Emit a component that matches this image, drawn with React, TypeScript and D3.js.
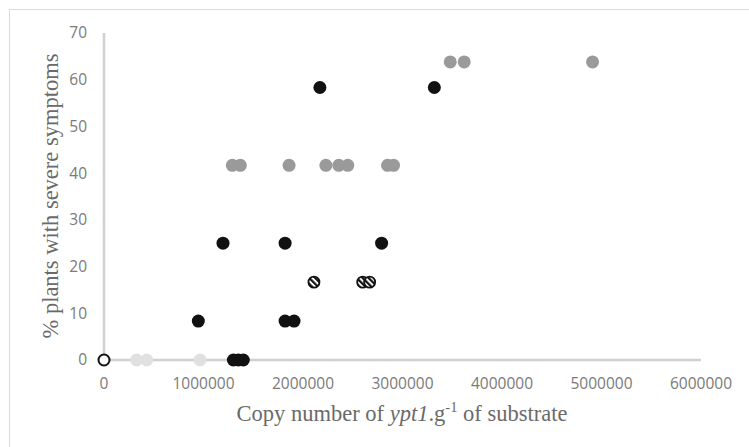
import React from "react";
import * as d3 from "d3";

const W = 749;
const H = 447;

const xTicks = [0, 1000000, 2000000, 3000000, 4000000, 5000000, 6000000];
const yTicks = [0, 10, 20, 30, 40, 50, 60, 70];

// Black filled series
const blackX = [948000, 1196000, 1300000, 1350000, 1400000, 1820000, 1910000, 1820000, 2170000, 3320000, 2790000];
const blackY = [8.33, 25, 0, 0, 0, 8.33, 8.33, 25, 58.33, 58.33, 25];

// Medium gray series
const grayX = [1290000, 1370000, 1860000, 2230000, 2360000, 2450000, 2850000, 2910000, 3480000, 3620000, 4910000];
const grayY = [41.67, 41.67, 41.67, 41.67, 41.67, 41.67, 41.67, 41.67, 63.8, 63.8, 63.8];

// Light gray series
const lightX = [328000, 429000, 965000];
const lightY = [0, 0, 0];

// Hatched series
const hatchX = [2110000, 2600000, 2670000];
const hatchY = [16.67, 16.67, 16.67];

// Open (control) series
const openX = [0];
const openY = [0];

export default function App() {
  const x = d3.scaleLinear().domain([0, 6000000]).range([104, 701]);
  const y = d3.scaleLinear().domain([0, 70]).range([360, 33]);
  const r = 6.5;
  const tickColor = "#7a7a7a";
  const titleColor = "#6a6a6a";
  const axisColor = "#d0d0d0";

  const pts = (xs: number[], ys: number[]) => xs.map((v, i) => [v, ys[i]] as [number, number]);

  return (
    <svg width={W} height={H} style={{ position: "absolute", left: 0, top: 0, background: "#fff" }}>
      <defs>
        <pattern id="hatch" patternUnits="userSpaceOnUse" width="4.2" height="4.2" patternTransform="rotate(-45)">
          <rect width="4.2" height="4.2" fill="#fff" />
          <rect width="2.2" height="4.2" fill="#111" />
        </pattern>
      </defs>
      <rect x={0} y={0} width={W} height={H} fill="#fff" />
      <rect x={9.5} y={9.5} width={800} height={600} fill="#fff" stroke="#d9d9d9" strokeWidth={1} />

      {/* axes */}
      <line x1={x(0)} x2={x(0)} y1={y(70)} y2={y(0)} stroke={axisColor} strokeWidth={2.5} />
      <line x1={x(0)} x2={x(6000000)} y1={y(0)} y2={y(0)} stroke={axisColor} strokeWidth={2.5} />

      {yTicks.map((t) => (
        <text key={"y" + t} x={87} y={y(t)} dy="0.35em" textAnchor="end" fontFamily="'Open Sans', sans-serif" fontSize={15.5} fill={tickColor}>
          {t}
        </text>
      ))}
      {xTicks.map((t) => (
        <text key={"x" + t} x={x(t)} y={384} dy="0.35em" textAnchor="middle" fontFamily="'Open Sans', sans-serif" fontSize={15.5} fill={tickColor}>
          {t}
        </text>
      ))}

      <text transform={`translate(58,${196}) rotate(-90)`} textAnchor="middle" fontFamily="'Liberation Serif', 'Times New Roman', serif" fontSize={22.5} fill={titleColor}>
        % plants with severe symptoms
      </text>
      <text x={402} y={421} textAnchor="middle" fontFamily="'Liberation Serif', 'Times New Roman', serif" fontSize={22.5} fill={titleColor}>
        Copy number of <tspan fontStyle="italic">ypt1</tspan>.g<tspan fontSize={14.5} dy={-9}>-1</tspan><tspan dy={9}> of substrate</tspan>
      </text>

      {pts(lightX, lightY).map(([a, b], i) => (
        <circle key={"l" + i} cx={x(a)} cy={y(b)} r={r} fill="#e0e0e0" />
      ))}
      {pts(grayX, grayY).map(([a, b], i) => (
        <circle key={"g" + i} cx={x(a)} cy={y(b)} r={r} fill="#9a9a9a" />
      ))}
      {pts(blackX, blackY).map(([a, b], i) => (
        <circle key={"b" + i} cx={x(a)} cy={y(b)} r={r} fill="#111" />
      ))}
      {pts(hatchX, hatchY).map(([a, b], i) => (
        <circle key={"h" + i} cx={x(a)} cy={y(b)} r={5.5} fill="url(#hatch)" stroke="#111" strokeWidth={1.8} />
      ))}
      {pts(openX, openY).map(([a, b], i) => (
        <circle key={"o" + i} cx={x(a)} cy={y(b)} r={5.5} fill="#fff" stroke="#111" strokeWidth={2} />
      ))}
    </svg>
  );
}
